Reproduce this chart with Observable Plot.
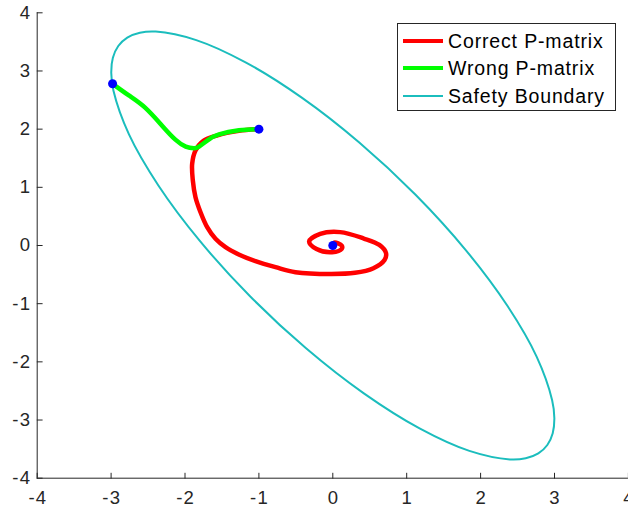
<!DOCTYPE html>
<html>
<head>
<meta charset="utf-8">
<script src="https://cdn.jsdelivr.net/npm/d3@7"></script>
<script src="https://cdn.jsdelivr.net/npm/@observablehq/plot@0.6"></script>
<style>
  html, body { margin: 0; padding: 0; background: #fff; }
  #wrap { position: relative; width: 628px; height: 509px; overflow: hidden; }
  #legend {
    position: absolute; left: 397px; top: 23px; width: 219px; height: 88px;
    box-sizing: border-box; border: 1px solid #262626; background: #fff;
    font-family: "Liberation Sans", Arial, sans-serif; font-size: 19.5px; letter-spacing: 0.85px; color: #000;
  }
  .row { position: absolute; left: 5px; height: 22px; display: flex; align-items: center; white-space: nowrap; }
  .swatch { width: 40px; margin-right: 5px; }
  svg text { letter-spacing: 1.2px; }
</style>
</head>
<body>
<div id="wrap"></div>
<script>
// ---- data ----
const xDomain = [-4, 4];
const yDomain = [-4, 4];
const xTicks = [-4, -3, -2, -1, 0, 1, 2, 3, 4];
const yTicks = [-4, -3, -2, -1, 0, 1, 2, 3, 4];

const seriesNames = ["Correct P-matrix", "Wrong P-matrix", "Safety Boundary"];
const seriesColors = ["#ff0000", "#00ff00", "#1bbdbd"];
const seriesWidths = [4.5, 4.5, 2];

// Correct P-matrix trajectory
const correctX = [-1.00, -1.27, -1.57, -1.75, -1.858, -1.903, -1.894, -1.858, -1.790, -1.700, -1.587, -1.452, -1.272, -1.046, -0.775, -0.505, -0.03, 0.30, 0.55, 0.70, 0.72, 0.63, 0.42, 0.10, -0.17, -0.32, -0.22, -0.01, 0.12, 0.12, 0.02, 0.00];
const correctY = [2.00, 1.97, 1.89, 1.80, 1.633, 1.404, 1.117, 0.830, 0.572, 0.315, 0.115, -0.029, -0.155, -0.270, -0.373, -0.459, -0.49, -0.47, -0.39, -0.25, -0.13, 0.01, 0.12, 0.23, 0.20, 0.07, -0.06, -0.115, -0.06, 0.00, 0.05, 0.00];

// Wrong P-matrix trajectory
const wrongX = [-1.00, -1.27, -1.54, -1.68, -1.81, -1.88, -1.99, -2.13, -2.31, -2.54, -2.76, -2.98];
const wrongY = [2.00, 1.98, 1.91, 1.82, 1.70, 1.67, 1.70, 1.82, 2.06, 2.37, 2.58, 2.78];

// Safety boundary (closed curve)
const boundaryX = [-2.781, -2.611, -2.396, -1.848, -1.174, -0.420, 0.362, 1.120, 1.802, 2.360, 2.758, 2.968, 2.998, 2.976, 2.903, 2.781, 2.611, 2.396, 1.848, 1.174, 0.420, -0.362, -1.120, -1.802, -2.360, -2.758, -2.968, -2.998, -2.976, -2.903];
const boundaryY = [3.574, 3.657, 3.678, 3.531, 3.144, 2.542, 1.767, 0.872, -0.083, -1.032, -1.910, -2.659, -2.968, -3.226, -3.429, -3.574, -3.657, -3.678, -3.531, -3.144, -2.542, -1.767, -0.872, 0.083, 1.032, 1.910, 2.659, 2.968, 3.226, 3.429];

// Marker points (start points and equilibrium)
const pointsX = [-1, -2.98, 0];
const pointsY = [2, 2.78, 0];

// ---- build tables ----
const zip = (xs, ys) => xs.map((x, i) => ({x, y: ys[i]}));
const correct = zip(correctX, correctY);
const wrong = zip(wrongX, wrongY);
const boundary = zip(boundaryX, boundaryY);
const points = zip(pointsX, pointsY);

const tickShape = { draw(context, l) { context.moveTo(0, 0); context.lineTo(0, -l); } };
const axisColor = "#262626";
const font = "Liberation Sans, Arial, sans-serif";

const chart = Plot.plot({
  width: 628,
  height: 509,
  marginLeft: 36.7,
  marginRight: 0.1,
  marginTop: 12.3,
  marginBottom: 31.3,
  style: { fontFamily: font, fontSize: "18.5px", background: "white", color: axisColor, overflow: "visible" },
  x: { domain: xDomain, ticks: xTicks, label: null },
  y: { domain: yDomain, ticks: yTicks, label: null },
  marks: [
    Plot.line(boundary, { x: "x", y: "y", curve: "catmull-rom-closed", stroke: seriesColors[2], strokeWidth: seriesWidths[2] }),
    Plot.line(correct, { x: "x", y: "y", curve: "catmull-rom", stroke: seriesColors[0], strokeWidth: seriesWidths[0], strokeLinejoin: "round", strokeLinecap: "round" }),
    Plot.line(wrong, { x: "x", y: "y", curve: "natural", stroke: seriesColors[1], strokeWidth: seriesWidths[1], strokeLinejoin: "round", strokeLinecap: "round" }),
    Plot.dot(points, { x: "x", y: "y", r: 4.5, fill: "#0000ff", stroke: null }),
    Plot.ruleX([xDomain[0]], { stroke: axisColor, strokeWidth: 1 }),
    Plot.ruleY([yDomain[0]], { stroke: axisColor, strokeWidth: 1 }),
    Plot.vector(xTicks, { x: d => d, y: yDomain[0], length: 5, rotate: 0, anchor: "start", shape: tickShape, stroke: axisColor, strokeWidth: 1 }),
    Plot.vector(yTicks, { x: xDomain[0], y: d => d, length: 5, rotate: 90, anchor: "start", shape: tickShape, stroke: axisColor, strokeWidth: 1 }),
    Plot.axisX({ ticks: xTicks, tickSize: 0, tickPadding: 13, tickFormat: d => String(d), fontSize: 18.5, fill: axisColor, label: null, dx: 0.6 }),
    Plot.axisY({ ticks: yTicks, tickSize: 0, tickPadding: 6, tickFormat: d => String(d), fontSize: 18.5, fill: axisColor, label: null })
  ]
});

const wrap = document.getElementById("wrap");
wrap.appendChild(chart);

// legend (overlay inside the axes, like the reference)
const legend = document.createElement("div");
legend.id = "legend";
const rowTops = [6, 33, 61];
seriesNames.forEach((name, i) => {
  const row = document.createElement("div");
  row.className = "row";
  row.style.top = rowTops[i] + "px";
  const sw = document.createElement("div");
  sw.className = "swatch";
  sw.style.height = seriesWidths[i] + "px";
  sw.style.background = seriesColors[i];
  const label = document.createElement("span");
  label.textContent = name;
  row.appendChild(sw);
  row.appendChild(label);
  legend.appendChild(row);
});
wrap.appendChild(legend);
</script>
</body>
</html>
